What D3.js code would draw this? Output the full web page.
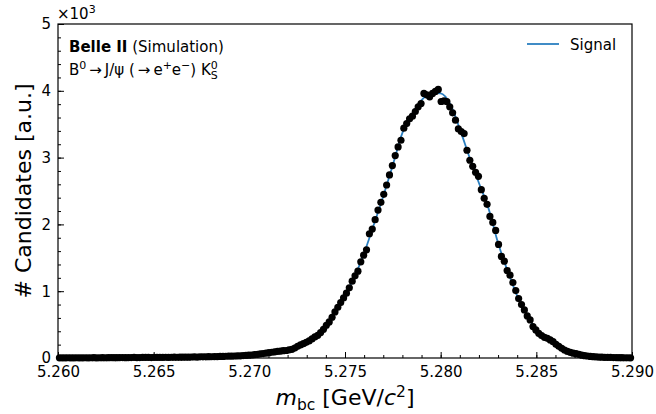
<!DOCTYPE html>
<html>
<head>
<meta charset="utf-8">
<script src="https://cdn.jsdelivr.net/npm/d3@7"></script>
<style>
  body { margin: 0; background: #fff; }
  text { font-family: "DejaVu Sans", sans-serif; fill: #000; }
</style>
</head>
<body>
<div class="mbc-plot"></div>
<script>
// data ============================================ //

// histogram: 200 bins of 0.15 MeV between 5.260 and 5.290 GeV
var binLow = 5.26;
var binWidth = 0.00015;
var counts = [
  2, 3, 2, 4, 3, 3, 4, 2, 3, 4,
  3, 4, 5, 3, 4, 5, 4, 5, 6, 5,
  5, 6, 7, 5, 6, 7, 8, 6, 7, 8,
  8, 9, 7, 9, 10, 8, 10, 11, 9, 11,
  12, 11, 13, 12, 14, 13, 15, 16, 14, 17,
  18, 17, 20, 19, 22, 21, 24, 23, 26, 28,
  27, 30, 33, 32, 36, 38, 42, 45, 52, 55,
  62, 66, 74, 80, 86, 92, 98, 104, 110, 112,
  122, 130, 148, 175, 195, 215, 235, 255, 285, 315,
  340, 380, 430, 490, 540, 610, 690, 760, 830, 900,
  970, 1050, 1150, 1230, 1300, 1440, 1540, 1620, 1860, 1930,
  2070, 2215, 2330, 2450, 2590, 2740, 2880, 3030, 3160, 3260,
  3440, 3510, 3580, 3620, 3690, 3760, 3810, 3960, 3940, 3910,
  3960, 3990, 4020, 3840, 3850, 3840, 3760, 3670, 3560, 3430,
  3390, 3360, 3110, 2960, 2870, 2780, 2720, 2520, 2390, 2300,
  2120, 2030, 1910, 1700, 1520, 1450, 1310, 1240, 1130, 1010,
  890, 800, 720, 630, 570, 470, 420, 370, 335, 310,
  295, 270, 245, 205, 175, 145, 120, 98, 85, 72,
  65, 55, 42, 35, 30, 24, 20, 16, 14, 12,
  10, 9, 8, 7, 6, 5, 5, 4, 4, 3
];

// signal fit curve
var curveMass = [
  5.2600, 5.2605, 5.2610, 5.2615, 5.2620, 5.2625, 5.2630, 5.2635, 5.2640, 5.2645,
  5.2650, 5.2655, 5.2660, 5.2665, 5.2670, 5.2675, 5.2680, 5.2685, 5.2690, 5.2695,
  5.2700, 5.2705, 5.2710, 5.2715, 5.2720, 5.2725, 5.2730, 5.2735, 5.2740, 5.2745,
  5.2750, 5.2755, 5.2760, 5.2765, 5.2770, 5.2775, 5.2780, 5.2785, 5.2790, 5.2795,
  5.2800, 5.2805, 5.2810, 5.2815, 5.2820, 5.2825, 5.2830, 5.2835, 5.2840, 5.2845,
  5.2850, 5.2855, 5.2860, 5.2865, 5.2870, 5.2875, 5.2880, 5.2885, 5.2890, 5.2895,
  5.2900
];
var curveVal = [
  2, 3, 3, 3, 4, 4, 5, 5, 6, 7,
  7, 8, 9, 10, 12, 14, 16, 19, 23, 28,
  40, 58, 78, 98, 120, 175, 240, 330, 480, 690,
  940, 1220, 1570, 1990, 2420, 2890, 3370, 3650, 3860, 3970,
  3960, 3800, 3430, 3010, 2620, 2240, 1720, 1300, 930, 640,
  430, 290, 195, 120, 68, 38, 22, 13, 8, 5,
  3
];

var xTicks = [5.260, 5.265, 5.270, 5.275, 5.280, 5.285, 5.290];
var yTicks = [0, 1000, 2000, 3000, 4000, 5000];

// drawing ========================================= //

var width = 656,
  height = 414;
var margin = { top: 24, right: 24, bottom: 56, left: 58 };
var w = width - margin.left - margin.right,
  h = height - margin.top - margin.bottom;
var blue = "#2b7fc0";

var svg = d3
  .select(".mbc-plot")
  .append("svg")
  .attr("width", width)
  .attr("height", height);

var plot = svg
  .append("g")
  .attr("transform", "translate(" + margin.left + "," + margin.top + ")");

var x = d3.scaleLinear().domain([5.26, 5.29]).range([0, w]);
var y = d3.scaleLinear().domain([0, 5000]).range([h, 0]);

// minor ticks
plot
  .append("g")
  .attr("transform", "translate(0," + h + ")")
  .call(d3.axisBottom(x).tickValues(d3.range(5.261, 5.2895, 0.001)).tickSize(-3).tickFormat(""))
  .call(function (g) { g.select(".domain").remove(); });
plot
  .append("g")
  .call(d3.axisLeft(y).tickValues(d3.range(200, 5000, 200)).tickSize(-3).tickFormat(""))
  .call(function (g) { g.select(".domain").remove(); });

// major ticks
var xaxis = plot
  .append("g")
  .attr("transform", "translate(0," + h + ")")
  .call(
    d3.axisBottom(x)
      .tickValues(xTicks)
      .tickSize(-6)
      .tickPadding(8)
      .tickFormat(d3.format(".3f"))
  );
xaxis.select(".domain").remove();
xaxis.selectAll("text").attr("font-size", 15).attr("font-family", "DejaVu Sans");

var yaxis = plot
  .append("g")
  .call(
    d3.axisLeft(y)
      .tickValues(yTicks)
      .tickSize(-6)
      .tickPadding(7)
      .tickFormat(function (d) { return d / 1000; })
  );
yaxis.select(".domain").remove();
yaxis.selectAll("text").attr("font-size", 15).attr("font-family", "DejaVu Sans");

// signal curve
var line = d3
  .line()
  .x(function (d) { return x(d[0]); })
  .y(function (d) { return y(d[1]); })
  .curve(d3.curveMonotoneX);

plot
  .append("path")
  .datum(curveMass.map(function (m, i) { return [m, curveVal[i]]; }))
  .attr("d", line)
  .attr("fill", "none")
  .attr("stroke", blue)
  .attr("stroke-width", 1.8);

// data points
plot
  .selectAll("circle.pt")
  .data(counts)
  .enter()
  .append("circle")
  .attr("class", "pt")
  .attr("cx", function (d, i) { return x(binLow + (i + 0.5) * binWidth); })
  .attr("cy", function (d) { return y(d); })
  .attr("r", 3.6)
  .attr("fill", "#000");

// frame
plot
  .append("rect")
  .attr("width", w)
  .attr("height", h)
  .attr("fill", "none")
  .attr("stroke", "#000")
  .attr("stroke-width", 1.2);

// x10^3 multiplier
var mult = svg.append("text").attr("x", 57).attr("y", 19).attr("font-size", 15);
mult.append("tspan").text("\u00d710");
mult.append("tspan").attr("dy", -6).attr("font-size", 11).text("3");

// axis titles
var xt = svg
  .append("text")
  .attr("x", margin.left + w / 2)
  .attr("y", 405)
  .attr("text-anchor", "middle")
  .attr("font-size", 22);
xt.append("tspan").attr("font-style", "italic").text("m");
xt.append("tspan").attr("dy", 5).attr("font-size", 15.5).text("bc");
xt.append("tspan").attr("dy", -5).text(" [GeV/");
xt.append("tspan").attr("font-style", "italic").text("c");
xt.append("tspan").attr("dy", -8).attr("font-size", 15.5).text("2");
xt.append("tspan").attr("dy", 8).text("]");

svg
  .append("text")
  .attr("transform", "translate(31," + (margin.top + h / 2) + ") rotate(-90)")
  .attr("text-anchor", "middle")
  .attr("font-size", 22)
  .text("# Candidates [a.u.]");

// experiment label
var l1 = svg.append("text").attr("x", 69).attr("y", 52).attr("font-size", 15);
l1.append("tspan").attr("font-weight", "bold").text("Belle II");
l1.append("tspan").text(" (Simulation)");

var l2 = svg.append("text").attr("x", 69).attr("y", 75).attr("font-size", 15);
l2.append("tspan").text("B");
l2.append("tspan").attr("dy", -6).attr("font-size", 11).text("0");
l2.append("tspan").attr("dy", 6).text("\u2009\u2192\u2009J/\u03c8 (\u2009\u2192\u2009e");
l2.append("tspan").attr("dy", -6).attr("font-size", 11).text("+");
l2.append("tspan").attr("dy", 6).text("e");
l2.append("tspan").attr("dy", -6).attr("font-size", 11).text("\u2212");
l2.append("tspan").attr("dy", 6).text(") K");
l2.append("tspan").attr("dy", -6).attr("font-size", 11).text("0");
l2.append("tspan").attr("dx", -7).attr("dy", 10).attr("font-size", 11).text("S");

// legend
svg
  .append("line")
  .attr("x1", 527)
  .attr("x2", 559)
  .attr("y1", 44)
  .attr("y2", 44)
  .attr("stroke", blue)
  .attr("stroke-width", 1.8);
svg.append("text").attr("x", 570).attr("y", 50).attr("font-size", 15).text("Signal");
</script>
</body>
</html>
